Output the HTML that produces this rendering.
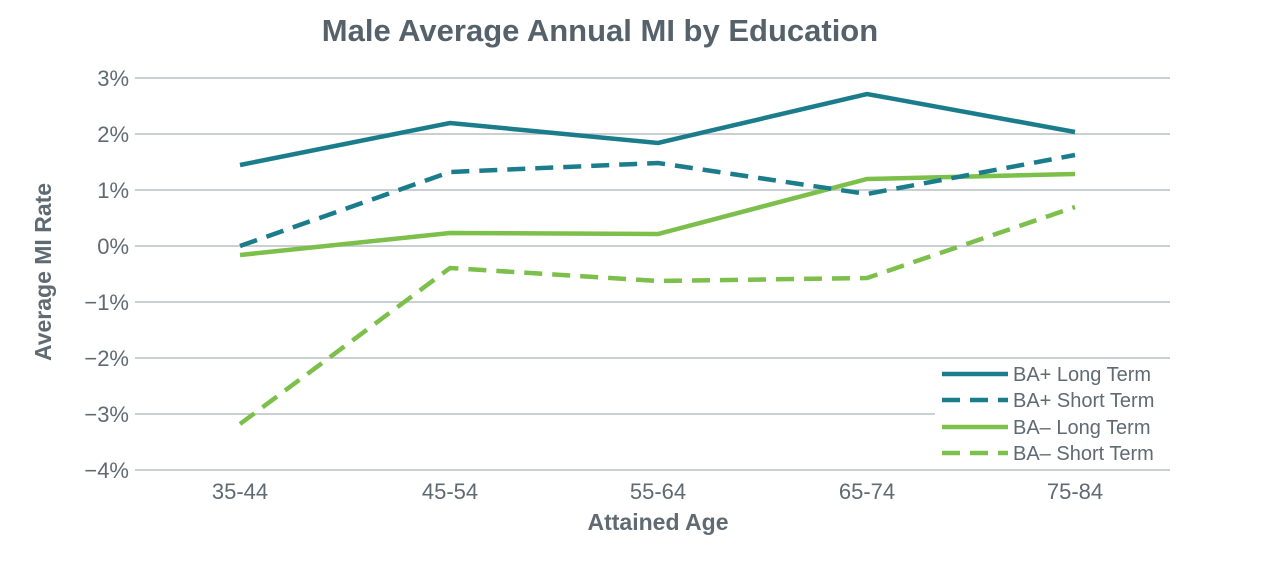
<!DOCTYPE html>
<html><head><style>
body{margin:0;background:#fff;}
svg{display:block;font-family:"Liberation Sans",sans-serif;}
</style></head><body>
<svg width="1280" height="570" viewBox="0 0 1280 570">
<text x="600" y="41" text-anchor="middle" font-size="31" font-weight="bold" fill="#56626b">Male Average Annual MI by Education</text>
<g stroke="#b9bfc4" stroke-width="1.5">
<line x1="135" x2="1170" y1="78" y2="78"/>
<line x1="135" x2="1170" y1="134" y2="134"/>
<line x1="135" x2="1170" y1="190" y2="190"/>
<line x1="135" x2="1170" y1="246" y2="246"/>
<line x1="135" x2="1170" y1="302" y2="302"/>
<line x1="135" x2="1170" y1="358" y2="358"/>
<line x1="135" x2="1170" y1="414" y2="414"/>
<line x1="135" x2="1170" y1="470" y2="470"/>
</g>
<g font-size="22" fill="#5f6a72" text-anchor="end">
<text x="129" y="86">3%</text>
<text x="129" y="142">2%</text>
<text x="129" y="198">1%</text>
<text x="129" y="254">0%</text>
<text x="129" y="310">−1%</text>
<text x="129" y="366">−2%</text>
<text x="129" y="422">−3%</text>
<text x="129" y="478">−4%</text>
</g>
<g font-size="22" fill="#5f6a72" text-anchor="middle">
<text x="240" y="499">35-44</text>
<text x="450" y="499">45-54</text>
<text x="658" y="499">55-64</text>
<text x="867" y="499">65-74</text>
<text x="1075" y="499">75-84</text>
</g>
<text x="658" y="530" text-anchor="middle" font-size="23" font-weight="bold" fill="#5f6a72">Attained Age</text>
<text transform="translate(51,272) rotate(-90)" text-anchor="middle" font-size="23" font-weight="bold" fill="#5f6a72">Average MI Rate</text>
<g fill="none" stroke-width="4.5">
<polyline stroke="#7cbf4a" stroke-dasharray="18,10" points="240,424 450,268 658,281 867,278 1075,207"/>
<polyline stroke="#7cbf4a" points="240,255 450,233 658,234 867,179 1075,174"/>
<polyline stroke="#1b7d8c" stroke-dasharray="18,10" points="240,246 450,172 658,163 867,194 1075,155"/>
<polyline stroke="#1b7d8c" points="240,165 450,123 658,143 867,94 1075,132"/>
</g>
<rect x="935" y="361" width="236" height="106" fill="#fff"/>
<g stroke-width="4.5">
<line x1="942" x2="1008" y1="374" y2="374" stroke="#1b7d8c"/>
<line x1="942" x2="1008" y1="400" y2="400" stroke="#1b7d8c" stroke-dasharray="18,10"/>
<line x1="942" x2="1008" y1="427" y2="427" stroke="#7cbf4a"/>
<line x1="942" x2="1008" y1="453" y2="453" stroke="#7cbf4a" stroke-dasharray="18,10"/>
</g>
<g font-size="20" fill="#5f6a72">
<text x="1013" y="381">BA+ Long Term</text>
<text x="1013" y="407">BA+ Short Term</text>
<text x="1013" y="434">BA– Long Term</text>
<text x="1013" y="460">BA– Short Term</text>
</g>
</svg>
</body></html>
